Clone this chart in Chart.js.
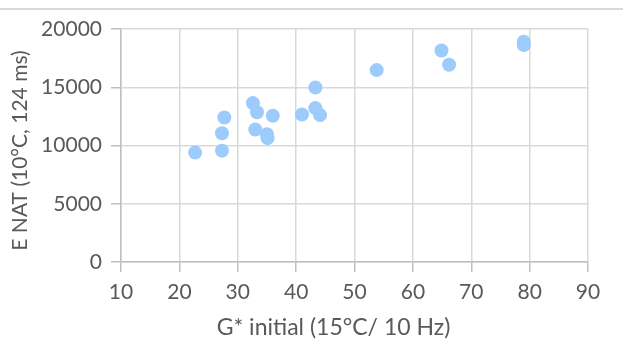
<!DOCTYPE html>
<html>
<head>
<meta charset="utf-8">
<script src="https://cdn.jsdelivr.net/npm/chart.js@4/dist/chart.umd.min.js"></script>
<style>
  html, body { margin: 0; padding: 0; background: #ffffff; }
  #wrap { position: relative; width: 623px; height: 343px; }
  #topline { position: absolute; left: 0; top: 8px; width: 623px; height: 2px; background: #d9d9d9; }
  canvas { position: absolute; left: 0; top: 0; }
</style>
</head>
<body>
<div id="wrap">
  <div id="topline"></div>
  <canvas id="c" width="623" height="343"></canvas>
</div>
<script>
// G* initial (15°C / 10 Hz)
const gInitial = [22.7, 27.3, 27.3, 27.7, 32.6, 33.3, 33.0, 36.0, 35.0, 35.1, 41.0, 43.3, 43.3, 44.1, 53.8, 64.9, 66.2, 79.0, 79.0];
// E NAT (10°C, 124 ms)
const eNat = [9390, 9560, 11050, 12400, 13640, 12860, 11370, 12550, 10970, 10630, 12660, 14980, 13210, 12610, 16470, 18160, 16930, 18900, 18620];

const xTitle = 'G* initial (15°C/ 10 Hz)';
const yTitle = 'E NAT (10°C, 124 ms)';

const points = gInitial.map((x, i) => ({ x: x, y: eNat[i] }));

const txt = '#595959';
const grid = '#d9d9d9';
const family = 'Lato, "Open Sans", sans-serif';
const tickFont = { family: family, size: 21 };

// Draws the axis titles (Excel centres them slightly differently from Chart.js)
const axisTitles = {
  id: 'axisTitles',
  afterDraw(chart) {
    const ctx = chart.ctx;
    const a = chart.chartArea;
    ctx.save();
    ctx.fillStyle = txt;
    ctx.textAlign = 'center';
    ctx.textBaseline = 'middle';
    ctx.font = '23px ' + family;
    ctx.fillText(xTitle, a.left + (a.right - a.left) * 0.455, chart.height - 15);
    ctx.font = '21px ' + family;
    ctx.translate(20, (a.top + a.bottom) / 2 + 5);
    ctx.rotate(-Math.PI / 2);
    ctx.fillText(yTitle, 0, 0);
    ctx.restore();
  }
};

new Chart(document.getElementById('c'), {
  type: 'scatter',
  data: {
    datasets: [{
      data: points,
      backgroundColor: '#9dcbfb',
      borderColor: '#9dcbfb',
      pointRadius: 7,
      pointHoverRadius: 7,
      borderWidth: 0
    }]
  },
  plugins: [axisTitles],
  options: {
    responsive: false,
    animation: false,
    events: [],
    layout: { padding: { left: 0, right: 35, top: 29, bottom: 0 } },
    plugins: { legend: { display: false }, tooltip: { enabled: false } },
    scales: {
      x: {
        type: 'linear',
        min: 10, max: 90,
        afterFit: s => { s.height = 81; },
        grid: { color: grid, lineWidth: 1.5, tickLength: 10, tickColor: '#bfbfbf' },
        border: { color: '#bfbfbf', width: 1.5 },
        ticks: { stepSize: 10, color: txt, font: tickFont, padding: 8 },
        title: { display: false, text: xTitle }
      },
      y: {
        type: 'linear',
        min: 0, max: 20000,
        afterFit: s => { s.width = 121; },
        grid: { color: grid, lineWidth: 1.5, tickLength: 10, tickColor: '#bfbfbf' },
        border: { color: '#bfbfbf', width: 1.5 },
        ticks: { stepSize: 5000, color: txt, font: tickFont, padding: 9,
                 callback: v => String(v) },
        title: { display: false, text: yTitle }
      }
    }
  }
});
</script>
</body>
</html>
